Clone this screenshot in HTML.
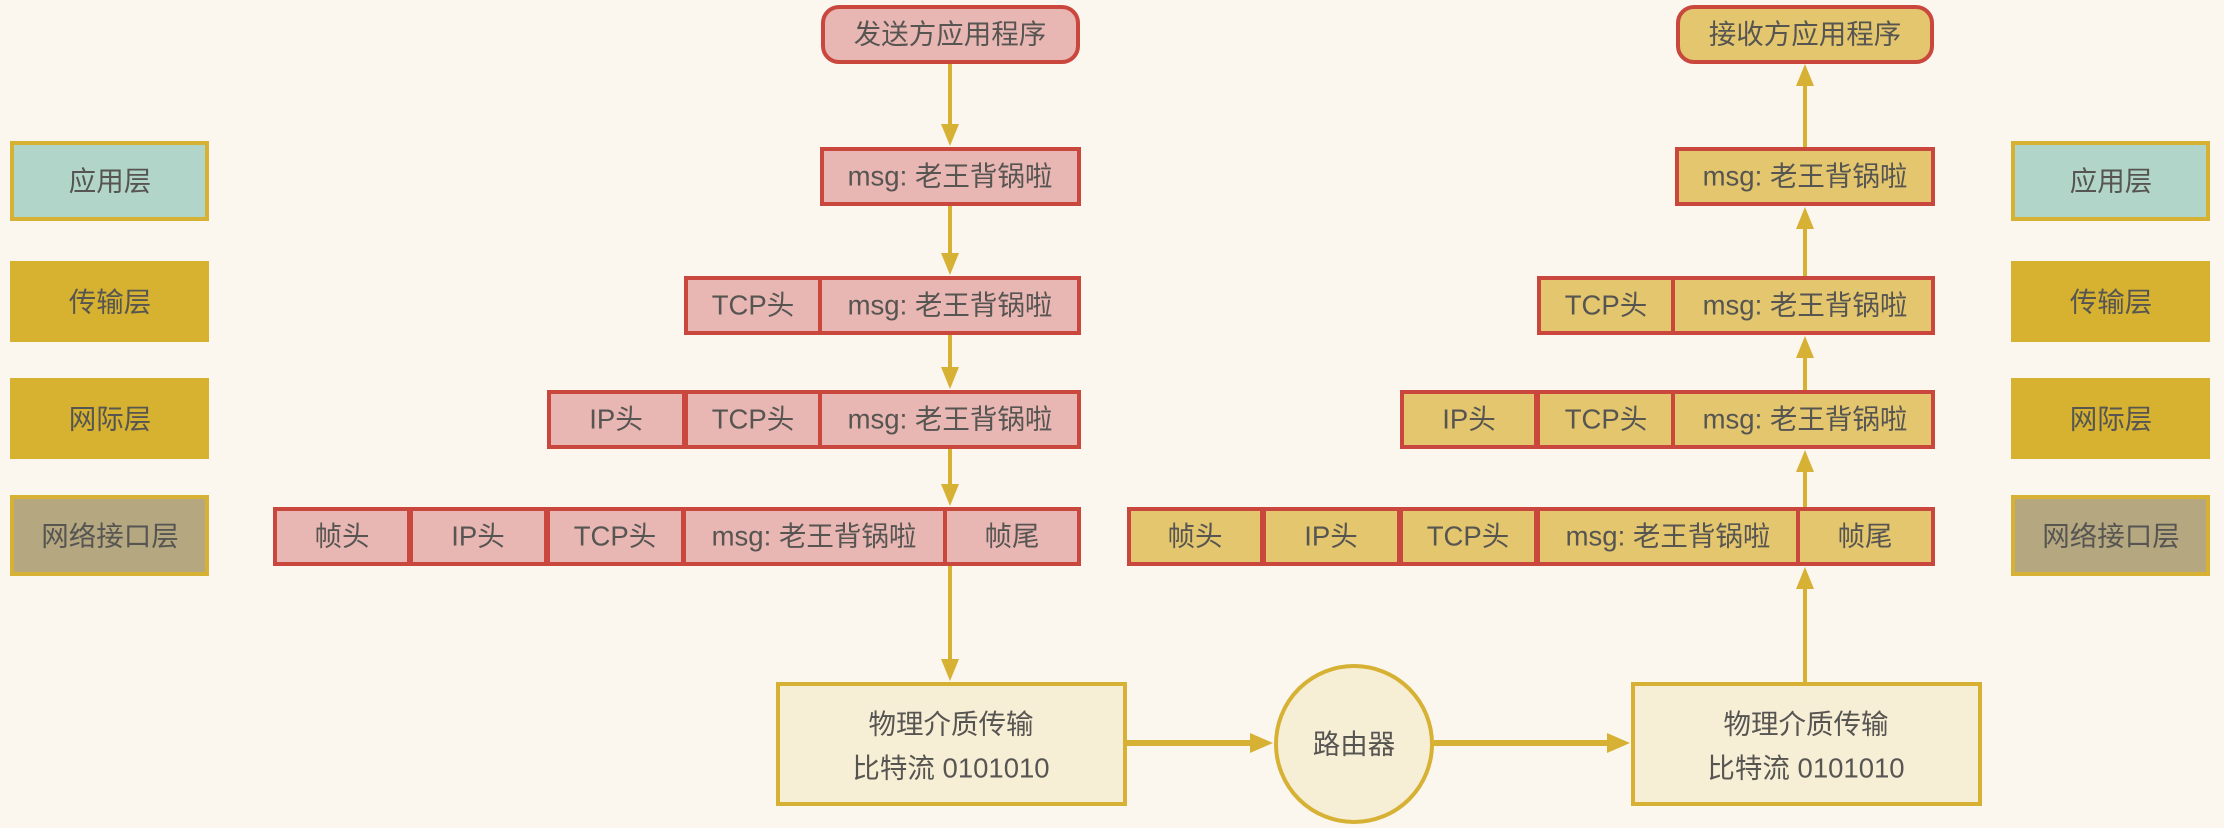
<!DOCTYPE html>
<html><head><meta charset="utf-8"><style>
html,body{margin:0;padding:0;background:#fbf7ef;}
svg{display:block}
text{font-family:"Liberation Sans","Noto Sans CJK SC",sans-serif;font-size:27.5px;fill:#575552;text-anchor:middle;dominant-baseline:central}
</style></head><body>
<svg width="2224" height="828" viewBox="0 0 2224 828" xmlns="http://www.w3.org/2000/svg">
<rect width="2224" height="828" fill="#fbf7ef"/>
<g stroke="#d6b134" stroke-width="4" fill="none">
<line x1="950" y1="63" x2="950" y2="126"/>
<line x1="950" y1="206" x2="950" y2="255"/>
<line x1="950" y1="335" x2="950" y2="369"/>
<line x1="950" y1="449" x2="950" y2="486"/>
<line x1="950" y1="566" x2="950" y2="661"/>
<line x1="1805" y1="682" x2="1805" y2="587"/>
<line x1="1805" y1="507" x2="1805" y2="470"/>
<line x1="1805" y1="390" x2="1805" y2="356"/>
<line x1="1805" y1="276" x2="1805" y2="227"/>
<line x1="1805" y1="147" x2="1805" y2="84"/>
<line x1="1127" y1="743" x2="1252" y2="743" stroke-width="6"/>
<line x1="1434" y1="743" x2="1609" y2="743" stroke-width="6"/>
</g>
<g fill="#d6b134">
<path d="M941,124 L959,124 L950,146 Z"/>
<path d="M941,253 L959,253 L950,275 Z"/>
<path d="M941,367 L959,367 L950,389 Z"/>
<path d="M941,484 L959,484 L950,506 Z"/>
<path d="M941,659 L959,659 L950,681 Z"/>
<path d="M1796,589 L1814,589 L1805,567 Z"/>
<path d="M1796,472 L1814,472 L1805,450 Z"/>
<path d="M1796,358 L1814,358 L1805,336 Z"/>
<path d="M1796,229 L1814,229 L1805,207 Z"/>
<path d="M1796,86 L1814,86 L1805,64 Z"/>
<path d="M1250,733 L1273,743 L1250,753 Z"/>
<path d="M1607,733 L1630,743 L1607,753 Z"/>
</g>
<g stroke="#d6b134" stroke-width="4">
<rect x="12" y="143" width="195" height="76" fill="#b2d5c9"/>
<rect x="10" y="261" width="199" height="81" fill="#d6b230" stroke="none"/>
<rect x="10" y="378" width="199" height="81" fill="#d6b230" stroke="none"/>
<rect x="12" y="497" width="195" height="77" fill="#b5a881"/>
<rect x="2013" y="143" width="195" height="76" fill="#b2d5c9"/>
<rect x="2011" y="261" width="199" height="81" fill="#d6b230" stroke="none"/>
<rect x="2011" y="378" width="199" height="81" fill="#d6b230" stroke="none"/>
<rect x="2013" y="497" width="195" height="77" fill="#b5a881"/>
</g>
<text x="110" y="181">应用层</text><text x="110" y="302">传输层</text><text x="110" y="419">网际层</text><text x="110" y="536">网络接口层</text>
<text x="2111" y="181">应用层</text><text x="2111" y="302">传输层</text><text x="2111" y="419">网际层</text><text x="2111" y="536">网络接口层</text>
<g stroke="#c9473d" stroke-width="4" fill="#e8b6b3">
<rect x="823" y="7" width="255" height="55" rx="16"/>
<rect x="822" y="149" width="257" height="55"/>
<rect x="686" y="278" width="134" height="55"/><rect x="820" y="278" width="259" height="55"/>
<rect x="549" y="392" width="135" height="55"/><rect x="686" y="392" width="134" height="55"/><rect x="820" y="392" width="259" height="55"/>
<rect x="275" y="509" width="134" height="55"/><rect x="411" y="509" width="135" height="55"/><rect x="548" y="509" width="135" height="55"/><rect x="684" y="509" width="261" height="55"/><rect x="945" y="509" width="134" height="55"/>
</g>
<text x="950" y="34">发送方应用程序</text>
<text x="950" y="176">msg: 老王背锅啦</text>
<text x="753" y="305">TCP头</text><text x="950" y="305">msg: 老王背锅啦</text>
<text x="616" y="419">IP头</text><text x="753" y="419">TCP头</text><text x="950" y="419">msg: 老王背锅啦</text>
<text x="342" y="536">帧头</text><text x="478" y="536">IP头</text><text x="615" y="536">TCP头</text><text x="814" y="536">msg: 老王背锅啦</text><text x="1012" y="536">帧尾</text>
<g stroke="#c9473d" stroke-width="4" fill="#e3c66d">
<rect x="1678" y="7" width="254" height="55" rx="16"/>
<rect x="1677" y="149" width="256" height="55"/>
<rect x="1539" y="278" width="134" height="55"/><rect x="1673" y="278" width="260" height="55"/>
<rect x="1402" y="392" width="134" height="55"/><rect x="1538" y="392" width="135" height="55"/><rect x="1673" y="392" width="260" height="55"/>
<rect x="1129" y="509" width="133" height="55"/><rect x="1264" y="509" width="135" height="55"/><rect x="1401" y="509" width="135" height="55"/><rect x="1538" y="509" width="260" height="55"/><rect x="1798" y="509" width="135" height="55"/>
</g>
<text x="1805" y="34">接收方应用程序</text>
<text x="1805" y="176">msg: 老王背锅啦</text>
<text x="1606" y="305">TCP头</text><text x="1805" y="305">msg: 老王背锅啦</text>
<text x="1469" y="419">IP头</text><text x="1606" y="419">TCP头</text><text x="1805" y="419">msg: 老王背锅啦</text>
<text x="1195" y="536">帧头</text><text x="1331" y="536">IP头</text><text x="1468" y="536">TCP头</text><text x="1668" y="536">msg: 老王背锅啦</text><text x="1865" y="536">帧尾</text>
<g stroke="#d6b134" stroke-width="4" fill="#f7eed6">
<rect x="778" y="684" width="347" height="120"/>
<rect x="1633" y="684" width="347" height="120"/>
<ellipse cx="1354" cy="744" rx="78" ry="78"/>
</g>
<text x="951" y="724">物理介质传输</text><text x="951" y="768">比特流 0101010</text>
<text x="1806" y="724">物理介质传输</text><text x="1806" y="768">比特流 0101010</text>
<text x="1354" y="744">路由器</text>
</svg>
</body></html>
